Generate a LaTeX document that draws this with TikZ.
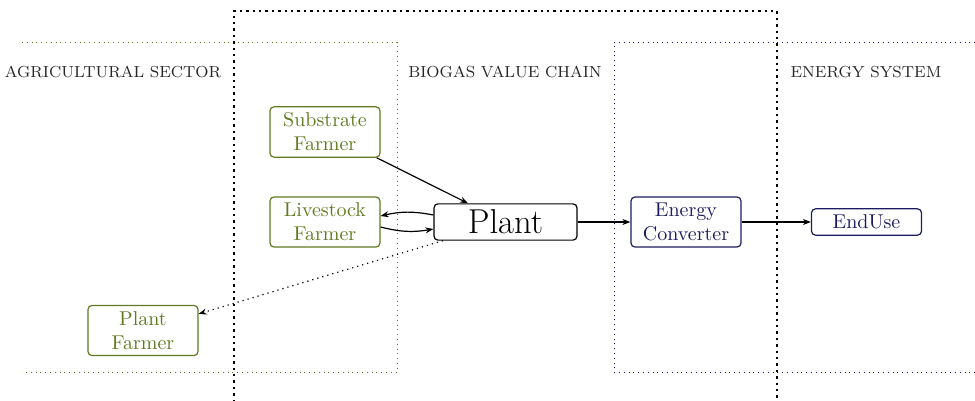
\documentclass[tikz,border=0pt]{standalone}
\usetikzlibrary{arrows.meta}
\definecolor{agri}{RGB}{96,122,32}
\definecolor{ener}{RGB}{28,28,96}
\begin{document}
\begin{tikzpicture}[x=0.5pt,y=-0.5pt,
  box/.style={draw,rounded corners=2pt,semithick,align=center,minimum width=55pt,inner sep=3pt},
  agribox/.style={box,draw=agri,text=agri},
  enerbox/.style={box,draw=ener,text=ener},
  sector/.style={font=\footnotesize,text=black!85},
  conn/.style={-{Stealth[length=4pt,width=3pt]},semithick},
  frame/.style={very thick,dotted}]
\useasboundingbox (0,0) rectangle (975,401);
% sector regions
\coordinate (gtl) at (22,42);
\coordinate (gtr) at (397,42);
\coordinate (gbr) at (397,372);
\coordinate (gbl) at (22,372);
\draw[dotted,agri] (gtl) -- (gtr) -- (gbr) -- (gbl);
\coordinate (btr) at (975,42);
\coordinate (btl) at (614,42);
\coordinate (bbl) at (614,372);
\coordinate (bbr) at (975,372);
\draw[dotted,ener] (btr) -- (btl) -- (bbl) -- (bbr);
\coordinate (ftl) at (234,11);
\coordinate (ftr) at (777,11);
\coordinate (fbl) at (234,402);
\coordinate (fbr) at (777,402);
\draw[frame] (fbl) -- (ftl) -- (ftr) -- (fbr);
% labels
\node[sector] (lagri) at (113,72) {AGRICULTURAL SECTOR};
\node[sector] (lbio) at (505,72) {BIOGAS VALUE CHAIN};
\node[sector] (lener) at (866,72) {ENERGY SYSTEM};
% nodes
\node[agribox] (sf) at (325,132) {Substrate\\Farmer};
\node[agribox] (lf) at (325,222) {Livestock\\Farmer};
\node[agribox] (pf) at (143,330.5) {Plant\\Farmer};
\node[box,draw=black,font=\LARGE,minimum width=71.5pt,inner sep=3pt] (plant) at (505.5,222) {Plant};
\node[enerbox] (ec) at (686,222) {Energy\\Converter};
\node[enerbox] (eu) at (866.5,222) {EndUse};
% connectors
\draw[conn] (sf) -- (plant);
\draw[conn] ([yshift=3.5pt]plant.west) to[bend right=12] ([yshift=3pt]lf.east);
\draw[conn] ([yshift=-2.5pt]lf.east) to[bend right=12] ([yshift=-3.5pt]plant.west);
\draw[conn,dotted] (plant) -- (pf);
\draw[conn] (plant) -- (ec);
\draw[conn] (ec) -- (eu);
\end{tikzpicture}
\end{document}
